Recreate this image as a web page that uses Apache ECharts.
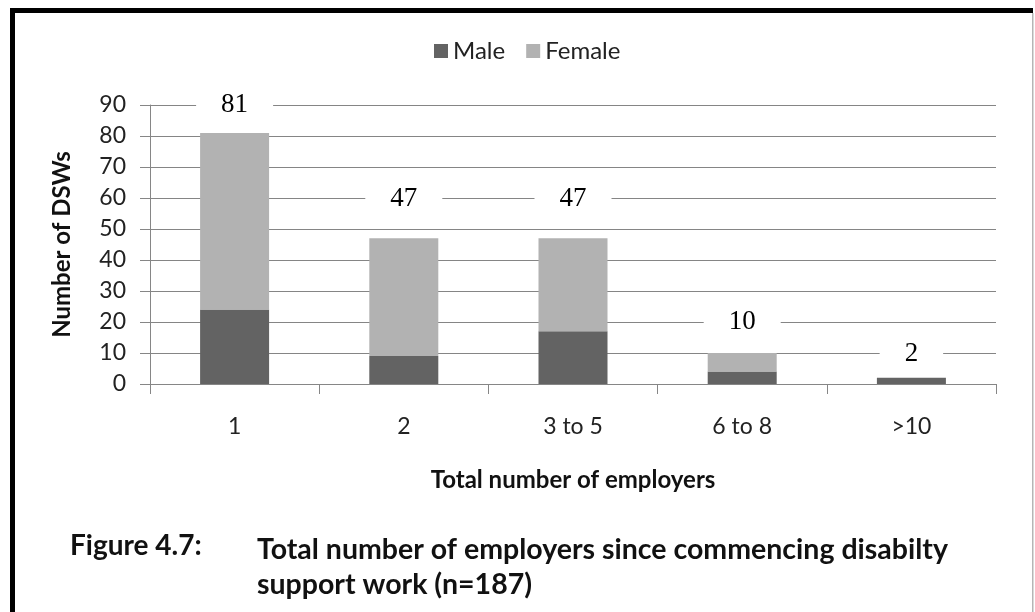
<!DOCTYPE html>
<html>
<head>
<meta charset="utf-8">
<title>Total number of employers</title>
<script src="https://cdn.jsdelivr.net/npm/echarts@6/dist/echarts.min.js"></script>
<style>
  html, body { margin: 0; padding: 0; background: #ffffff; }
  #chart { width: 1035px; height: 612px; }
</style>
</head>
<body>
<div id="chart"></div>
<script>
// Number of disability support workers by how many employers they have had
const categories = ['1', '2', '3 to 5', '6 to 8', '>10'];
const male = [24, 9, 17, 4, 2];
const female = [57, 38, 30, 6, 0];
const yTicks = [0, 10, 20, 30, 40, 50, 60, 70, 80, 90];

// How far (px) each total label sits above its stack
const labelLift = [28, 39, 39, 31, 24];

const totals = male.map((m, i) => m + female[i]);

const SANS = 'Lato, "Open Sans", sans-serif';
const SERIF = '"Liberation Serif", "DejaVu Serif", serif';

const chart = echarts.init(document.getElementById('chart'), null, { renderer: 'canvas' });

chart.setOption({
  animation: false,
  backgroundColor: '#ffffff',
  legend: {
    data: ['Male', 'Female'],
    left: 429,
    top: 34,
    itemWidth: 14,
    itemHeight: 14,
    itemGap: 21,
    icon: 'rect',
    textStyle: { fontFamily: SANS, fontSize: 24, color: '#222' }
  },
  grid: { left: 150, right: 39, top: 105, bottom: 228, containLabel: false },
  xAxis: {
    type: 'category',
    data: categories,
    boundaryGap: true,
    name: 'Total number of employers',
    nameLocation: 'middle',
    nameGap: 84,
    nameTextStyle: { fontFamily: SANS, fontSize: 24, fontWeight: 'bold', color: '#111' },
    axisLine: { lineStyle: { color: '#868686', width: 1 } },
    axisTick: { show: true, length: 10, lineStyle: { color: '#868686' } },
    axisLabel: { fontFamily: SANS, fontSize: 23, color: '#222', margin: 31 }
  },
  yAxis: {
    type: 'value',
    min: yTicks[0],
    max: yTicks[yTicks.length - 1],
    interval: 10,
    name: 'Number of DSWs',
    nameLocation: 'middle',
    nameGap: 76,
    nameRotate: 90,
    nameTextStyle: { fontFamily: SANS, fontSize: 24, fontWeight: 'bold', color: '#111' },
    axisLine: { show: true, lineStyle: { color: '#868686', width: 1 } },
    axisTick: { show: true, length: 10, lineStyle: { color: '#868686' } },
    axisLabel: { fontFamily: SANS, fontSize: 23, color: '#222', margin: 24 },
    splitLine: { show: true, lineStyle: { color: '#858585', width: 1.2 } }
  },
  series: [
    {
      name: 'Male',
      type: 'bar',
      stack: 'dsw',
      data: male,
      barWidth: 69,
      itemStyle: { color: '#636363' }
    },
    {
      name: 'Female',
      type: 'bar',
      stack: 'dsw',
      data: female,
      barWidth: 69,
      itemStyle: { color: '#b2b2b2' }
    },
    {
      // totals written above each stack
      name: 'Total',
      type: 'line',
      data: totals.map((t, i) => ({
        value: t,
        label: { offset: [0, -labelLift[i]] }
      })),
      symbol: 'circle',
      symbolSize: 1,
      showSymbol: true,
      itemStyle: { color: 'rgba(0,0,0,0)' },
      lineStyle: { opacity: 0 },
      z: 5,
      label: {
        show: true,
        position: 'inside',
        fontFamily: SERIF,
        fontSize: 27,
        color: '#000',
        backgroundColor: '#ffffff',
        padding: [2, 25]
      },
      tooltip: { show: false }
    }
  ],
  graphic: [
    // page frame: heavy top and left rules, light right rule
    { type: 'rect', shape: { x: 10, y: 8, width: 1023, height: 5 }, style: { fill: '#000' }, silent: true },
    { type: 'rect', shape: { x: 10, y: 8, width: 5, height: 604 }, style: { fill: '#000' }, silent: true },
    { type: 'rect', shape: { x: 1032, y: 13, width: 1.5, height: 599 }, style: { fill: '#b5b5b5' }, silent: true },
    // figure caption
    {
      type: 'text', left: 70, top: 532,
      style: { text: 'Figure 4.7:', font: 'bold 28px ' + SANS, fill: '#111' }
    },
    {
      type: 'text', left: 257, top: 532,
      style: {
        text: 'Total number of employers since commencing disabilty\nsupport work (n=187)',
        font: 'bold 28.5px ' + SANS, fill: '#111', lineHeight: 35
      }
    }
  ]
});
</script>
</body>
</html>
